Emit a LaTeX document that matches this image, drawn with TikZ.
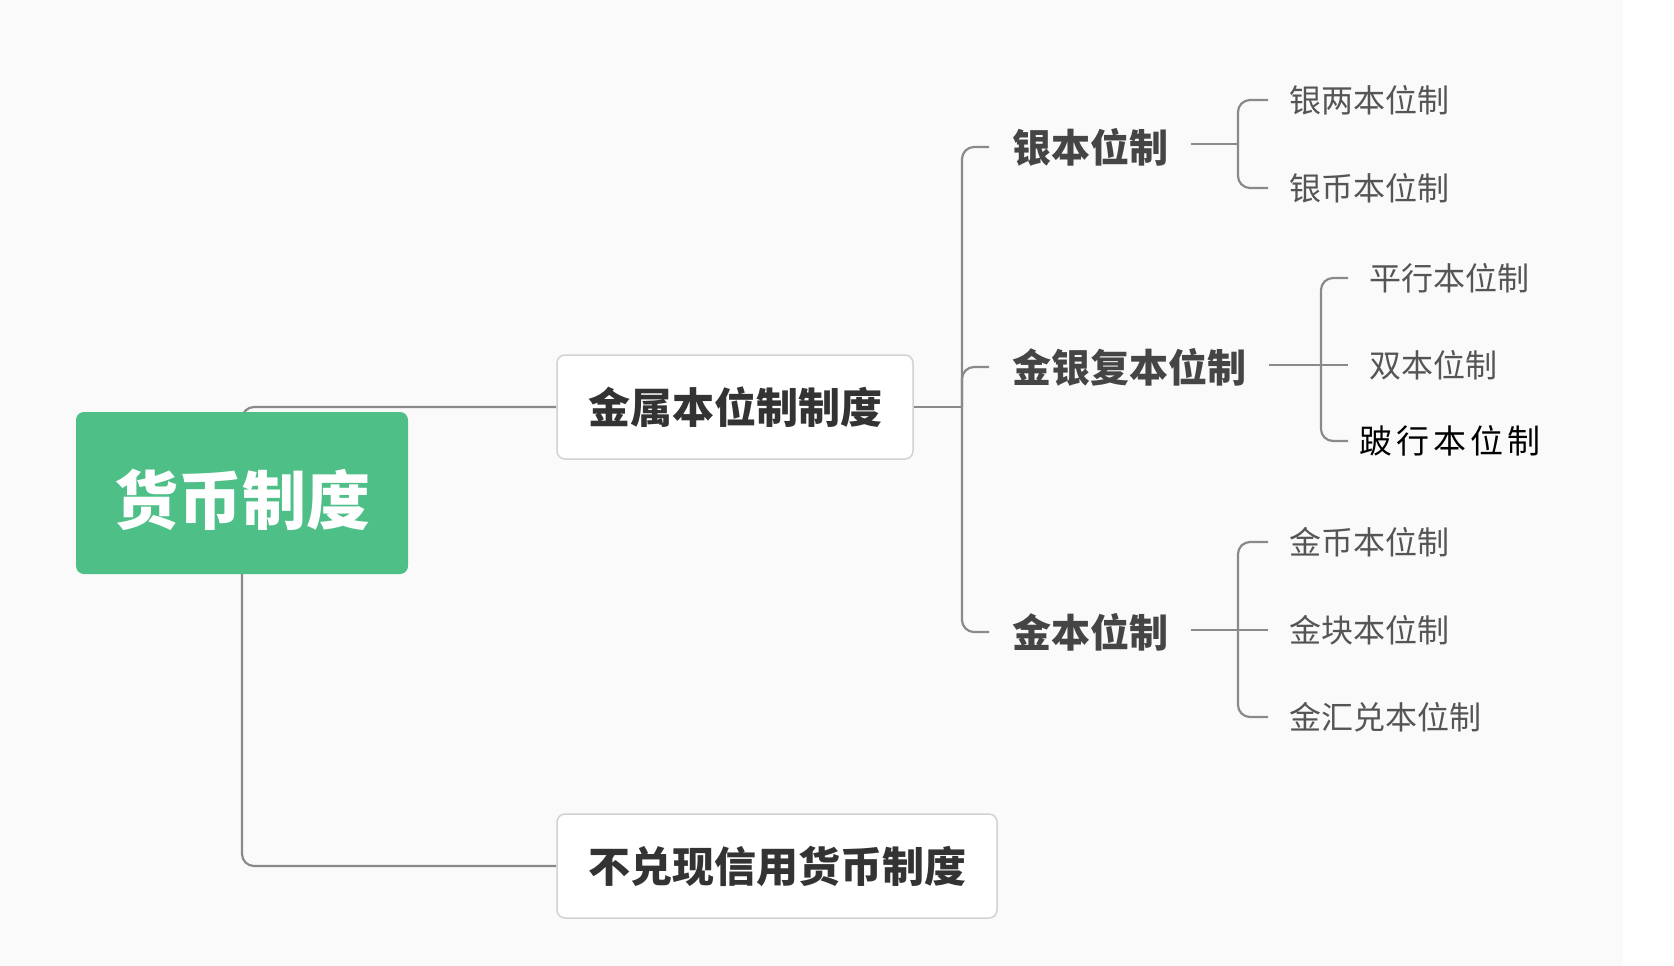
\documentclass[tikz,border=0pt]{standalone}
\usepackage{fontspec}
\newfontfamily\cjk{Noto Sans CJK SC}
\usetikzlibrary{backgrounds}
\definecolor{bgc}{HTML}{FAFAFA}
\definecolor{rootc}{HTML}{4EBF87}
\definecolor{linec}{HTML}{8A8A8A}
\definecolor{boxline}{HTML}{D2D2D2}
\definecolor{txtA}{HTML}{333333}
\definecolor{txtB}{HTML}{454545}
\definecolor{txtC}{HTML}{555555}
\tikzset{
  rootbox/.style={rectangle, rounded corners=8pt, fill=rootc, text=white,
    minimum width=332pt, minimum height=162pt, inner sep=0pt,
    font=\cjk\bfseries\fontsize{64pt}{70pt}\selectfont},
  mainbox/.style={rectangle, rounded corners=8pt, fill=white, draw=boxline, line width=1.5pt,
    minimum height=104pt, inner sep=0pt, text=txtA,
    font=\cjk\bfseries\fontsize{42pt}{48pt}\selectfont},
  lvtwo/.style={anchor=west, inner xsep=23pt, inner ysep=0pt, text=txtB,
    font=\cjk\bfseries\fontsize{39pt}{44pt}\selectfont},
  lvthree/.style={anchor=west, inner xsep=21pt, inner ysep=0pt, text=txtC,
    font=\cjk\fontsize{32pt}{38pt}\selectfont},
  conn/.style={draw=linec, line width=2.2pt, rounded corners=12pt},
}
\begin{document}
\begin{tikzpicture}[x=1pt, y=-1pt]
\useasboundingbox (0,0) rectangle (1674,966);
% main nodes
\node[rootbox] (root) at (242,493) {\raisebox{-31pt}[0pt][0pt]{货币制度}};
\node[mainbox, minimum width=356pt] (metal) at (735,407) {金属本位制制度};
\node[mainbox, minimum width=440pt] (fiat) at (777,866) {不兑现信用货币制度};
% level two
\node[lvtwo] (silver) at (989,147) {银本位制};
\node[lvtwo] (bimet) at (989,367) {金银复本位制};
\node[lvtwo] (gold) at (989,632) {金本位制};
% level three
\node[lvthree] (s1) at (1268,100) {银两本位制};
\node[lvthree] (s2) at (1268,188) {银币本位制};
\node[lvthree] (b1) at (1348,278) {平行本位制};
\node[lvthree] (b2) at (1348,365) {双本位制};
\node[lvthree, inner xsep=11pt, text=black, font=\cjk\fontsize{33pt}{38pt}\selectfont] (b3) at (1348,441) {跛\hspace{4pt}行\hspace{4pt}本\hspace{4pt}位\hspace{4pt}制};
\node[lvthree] (g1) at (1268,542) {金币本位制};
\node[lvthree] (g2) at (1268,630) {金块本位制};
\node[lvthree] (g3) at (1268,717) {金汇兑本位制};
% junctions
\coordinate (t1) at (962,407);
\coordinate (j1) at (1238,144);
\coordinate (j2) at (1321,365);
\coordinate (j3) at (1238,630);
\begin{scope}[on background layer]
\fill[bgc] (0,0) rectangle (1623,966);
\fill[white] (1623,0) rectangle (1674,966);
\draw[conn] (root.center) |- (metal.west);
\draw[conn] (root.center) |- (fiat.west);
\draw[conn] (metal.east) -- (t1);
\draw[conn] (t1) |- (silver.west);
\draw[conn] (t1) |- (bimet.west);
\draw[conn] (t1) |- (gold.west);
\draw[conn] (silver.east |- j1) -- (j1);
\draw[conn] (j1) |- (s1.west);
\draw[conn] (j1) |- (s2.west);
\draw[conn] (bimet.east |- j2) -- (j2);
\draw[conn] (j2) |- (b1.west);
\draw[conn] (j2) -- (b2.west);
\draw[conn] (j2) |- (b3.west);
\draw[conn] (gold.east |- j3) -- (j3);
\draw[conn] (j3) |- (g1.west);
\draw[conn] (j3) -- (g2.west);
\draw[conn] (j3) |- (g3.west);
\end{scope}
\end{tikzpicture}
\end{document}
